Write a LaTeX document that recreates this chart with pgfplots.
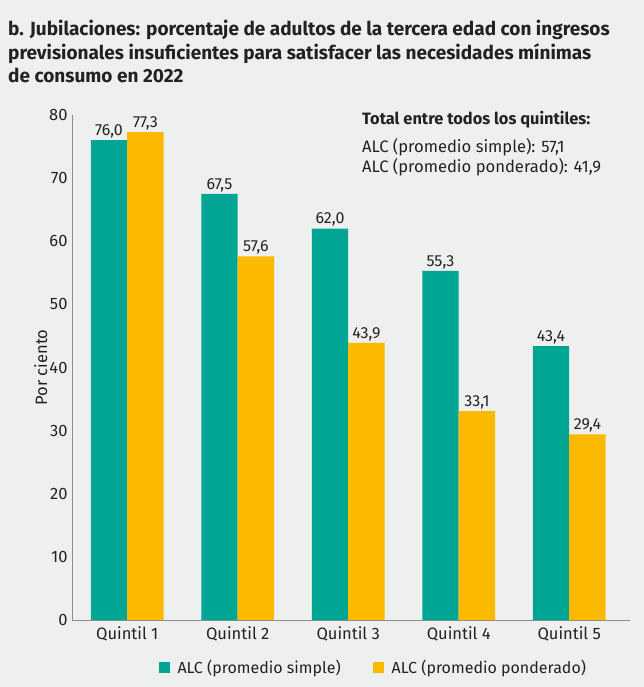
\documentclass[border=0pt]{standalone}
\usepackage{fontspec}
\setmainfont{Fira Sans}
\usepackage{pgfplots}
\pgfplotsset{compat=1.18}
\definecolor{bg}{HTML}{EEF0EF}
\definecolor{teal}{HTML}{00A693}
\definecolor{gold}{HTML}{FBBA00}
\definecolor{txt}{HTML}{222222}
\definecolor{axgray}{HTML}{8C8C8C}
\begin{document}
\begin{tikzpicture}[x=1pt,y=1pt]
\fill[bg] (0,0) rectangle (644,687);
\node[anchor=base west,font=\fontsize{19}{21}\selectfont\bfseries,text=txt,inner sep=0] at (8,651) {b. Jubilaciones: porcentaje de adultos de la tercera edad con ingresos};
\node[anchor=base west,font=\fontsize{19}{21}\selectfont\bfseries,text=txt,inner sep=0] at (8,627) {previsionales insuficientes para satisfacer las necesidades mínimas};
\node[anchor=base west,font=\fontsize{19}{21}\selectfont\bfseries,text=txt,inner sep=0] at (8,604) {de consumo en 2022};
\node[anchor=base west,font=\fontsize{16.4}{18}\selectfont\bfseries,text=txt,inner sep=0] at (362,562) {Total entre todos los quintiles:};
\node[anchor=base west,font=\fontsize{16.6}{19}\selectfont,text=txt,inner sep=0] at (362,534) {ALC (promedio simple): 57,1};
\node[anchor=base west,font=\fontsize{16.6}{19}\selectfont,text=txt,inner sep=0] at (362,514) {ALC (promedio ponderado): 41,9};
\begin{axis}[
  at={(72pt,67pt)}, anchor=south west,
  scale only axis, width=558pt, height=505pt,
  ymin=0, ymax=80, xmin=-0.5, xmax=4.55,
  ytick={0,10,...,80},
  xtick={0,1,2,3,4},
  xticklabels={Quintil 1,Quintil 2,Quintil 3,Quintil 4,Quintil 5},
  axis x line*=bottom, axis y line*=left,
  axis line style={axgray, line width=1pt},
  major tick length=0pt,
  tick style={draw=none},
  /pgf/number format/assume math mode=true,
  ticklabel style={font=\fontsize{16.5}{19}\selectfont, text=txt},
  yticklabel style={xshift=-1pt},
  xticklabel style={yshift=-3pt},
  ylabel={Por ciento},
  ylabel style={font=\fontsize{16.5}{19}\selectfont, text=txt, at={(axis description cs:-0.056,0.5)}, anchor=center},
  ybar=0pt, bar width=0.33,
  nodes near coords,
  nodes near coords style={font=\fontsize{16}{18}\selectfont, text=txt, inner sep=2pt,
    /pgf/number format/.cd, fixed, fixed zerofill, precision=1, use comma, assume math mode=true},
  legend style={at={(0.54,-0.095)}, anchor=center, draw=none, fill=none,
    legend columns=2, font=\fontsize{16}{18}\selectfont, text=txt,
    /tikz/every even column/.append style={column sep=30pt},
    /tikz/every odd column/.append style={column sep=6pt}},
  legend image code/.code={\fill[#1] (0pt,-5pt) rectangle (11pt,6pt);},
]
\addplot[fill=teal, draw=none] coordinates {(0,76.0) (1,67.5) (2,62.0) (3,55.3) (4,43.4)};
\addplot[fill=gold, draw=none] coordinates {(0,77.3) (1,57.6) (2,43.9) (3,33.1) (4,29.4)};
\legend{ALC (promedio simple), ALC (promedio ponderado)}
\end{axis}
\pgfresetboundingbox
\useasboundingbox (0,0) rectangle (644,687);
\end{tikzpicture}
\end{document}
